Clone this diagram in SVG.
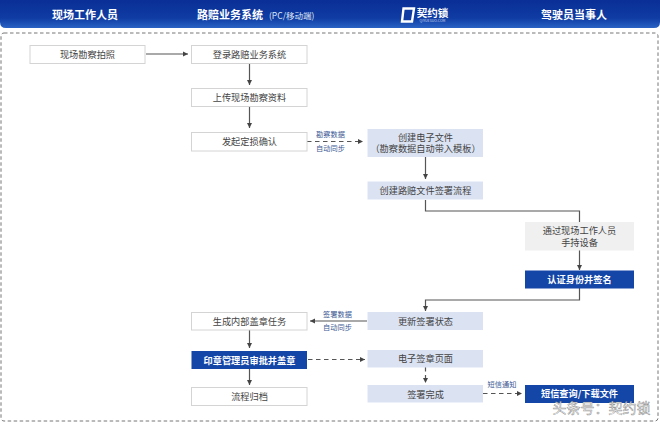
<svg xmlns="http://www.w3.org/2000/svg" width="660" height="422" viewBox="0 0 660 422">
<style>
text{font-family:"Noto Sans CJK SC","Liberation Sans",sans-serif;text-anchor:middle}
.h{font-size:11px;font-weight:700;fill:#fff}
.t{font-size:9.2px;fill:#444}
.w{font-size:9.2px;font-weight:700;fill:#fff}
.l{font-size:7.2px;fill:#3d5a94}
.o{fill:#fff;stroke:#d4d4d4;stroke-width:1}
.a{fill:#dbe3f3}
.g{fill:#f0f0f0}
.b{fill:#1446a8}
.c{fill:none;stroke:#555;stroke-width:1.2;marker-end:url(#m)}
.n{fill:none;stroke:#555;stroke-width:1.2}
.d{stroke-dasharray:4.500 3.500}
</style>
<defs>
<linearGradient id="hg" x1="0" y1="0" x2="0" y2="1"><stop offset="0" stop-color="#0a2f96"/><stop offset=".65" stop-color="#0f3ca3"/><stop offset="1" stop-color="#2a63c4"/></linearGradient>
<marker id="m" markerUnits="userSpaceOnUse" markerWidth="6" markerHeight="6" refX="5" refY="3" orient="auto"><path d="M0 .5L5 3L0 5.500Z" fill="#444"/></marker>
</defs>
<rect width="660" height="422" fill="#fff"/>
<g id="header">
<path d="M0 0H660V22Q660 28 654 28H6Q0 28 0 22Z" fill="url(#hg)"/>
<text class="h" x="85" y="19">现场工作人员</text>
<text class="h" x="230" y="19">路赔业务系统</text>
<text x="269" y="18.500" font-size="8.500" fill="#dfe7f7" style="text-anchor:start">(PC/移动端)</text>
<path d="M403.500 8.500H414L412 21.500H402Z" fill="#0f3ca3" stroke="#fff" stroke-width="2.400"/>
<text fill="#fff"><tspan x="432.500" y="17" font-size="10.500" font-weight="700">契约锁</tspan><tspan x="432.500" y="22" font-size="3.500" fill="#cfdcf3">QIYUESUO.COM</tspan></text>
<text class="h" x="574" y="19">驾驶员当事人</text>
</g>
<rect id="frame" x="1" y="33" width="657" height="388" rx="3" fill="none" stroke="#777" stroke-width="1" stroke-dasharray="3.500 2.500"/>
<g id="connectors">
<path class="c" d="M146 54H188"/>
<path class="c" d="M249.500 63V85"/>
<path class="c" d="M249.500 106V128"/>
<path class="c d" d="M307 141.500H363"/>
<path class="c" d="M425.500 157V179"/>
<path class="n" d="M425.500 200V211H579.500V222"/>
<path class="c" d="M579.500 250V270"/>
<path class="c" d="M579.500 288V300H425.500V311"/>
<path class="c" d="M367 321H310"/>
<path class="c" d="M249.500 330V348"/>
<path class="c d" d="M308 359.500H365"/>
<path class="c" d="M249.500 369V385"/>
<path class="c d" d="M425.500 367V383"/>
<path class="c d" d="M483 393.500H522"/>
</g>
<g id="edge-labels">
<text class="l" x="330.500" y="137">勘察数据</text>
<text class="l" x="330.500" y="151">自动同步</text>
<text class="l" x="337.500" y="316.500">签署数据</text>
<text class="l" x="337.500" y="329.500">自动同步</text>
<text class="l" x="502" y="386.700">短信通知</text>
</g>
<g id="n1"><rect class="o" x="30" y="45.500" width="115" height="18"/><text class="t" x="87.500" y="57.800">现场勘察拍照</text></g>
<g id="n2"><rect class="o" x="191.500" y="45.500" width="115.500" height="18"/><text class="t" x="249.500" y="57.800">登录路赔业务系统</text></g>
<g id="n3"><rect class="o" x="191.500" y="88.500" width="115.500" height="18"/><text class="t" x="249.500" y="101">上传现场勘察资料</text></g>
<g id="n4"><rect class="o" x="191.500" y="132.500" width="115.500" height="18.500"/><text class="t" x="249.500" y="145">发起定损确认</text></g>
<g id="n5"><rect class="a" x="367.500" y="129" width="115.500" height="28"/><text class="t"><tspan x="425.500" y="141">创建电子文件</tspan><tspan x="425.500" y="152">（勘察数据自动带入模板）</tspan></text></g>
<g id="n6"><rect class="a" x="367.500" y="181.500" width="115.500" height="18"/><text class="t" x="425.500" y="194">创建路赔文件签署流程</text></g>
<g id="n7"><rect class="g" x="525" y="222" width="109" height="28.500"/><text class="t"><tspan x="579.500" y="234">通过现场工作人员</tspan><tspan x="579.500" y="245.500">手持设备</tspan></text></g>
<g id="n8"><rect class="b" x="525" y="270.500" width="109" height="18"/><text class="w" x="579.500" y="283">认证身份并签名</text></g>
<g id="n9"><rect class="a" x="367.500" y="312" width="115.500" height="18"/><text class="t" x="425.500" y="324.500">更新签署状态</text></g>
<g id="n10"><rect class="o" x="191.500" y="312.500" width="115.500" height="17.500"/><text class="t" x="249.500" y="324.500">生成内部盖章任务</text></g>
<g id="n11"><rect class="b" x="191.500" y="351" width="115.500" height="18"/><text class="w" x="249.500" y="363.500">印章管理员审批并盖章</text></g>
<g id="n12"><rect class="a" x="367.500" y="350" width="115.500" height="17.500"/><text class="t" x="425.500" y="362">电子签章页面</text></g>
<g id="n13"><rect class="a" x="367.500" y="385" width="115.500" height="17.500"/><text class="t" x="425.500" y="397.500">签署完成</text></g>
<g id="n14"><rect class="o" x="191.500" y="387.500" width="115.500" height="18"/><text class="t" x="249.500" y="400">流程归档</text></g>
<g id="n15"><rect class="b" x="525" y="385" width="109" height="18"/><text class="w" x="579.500" y="397">短信查询/下载文件</text></g>
<text id="watermark" x="601.500" y="413" font-size="14" fill="#fff" stroke="#555" stroke-opacity=".7" stroke-width=".5">头条号：契约锁</text>
</svg>
